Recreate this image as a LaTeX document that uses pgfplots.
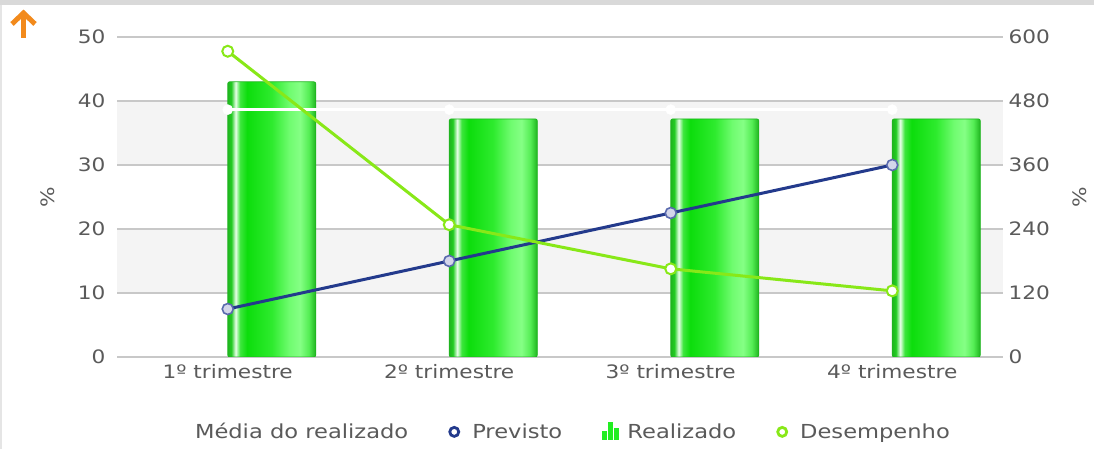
\documentclass[border=0pt]{standalone}
\usepackage{pgfplots}
\pgfplotsset{compat=1.18}
\usepackage{fontspec}
\setmainfont[FakeStretch=1.17]{DejaVu Sans}
\definecolor{txt}{HTML}{5A5A5A}
\definecolor{gridc}{HTML}{C8C8C8}
\definecolor{band}{HTML}{F4F4F4}
\definecolor{prev}{HTML}{233A8C}
\definecolor{prevmk}{HTML}{5A6AAE}
\definecolor{prevfill}{HTML}{D3D6EA}
\definecolor{des}{HTML}{88E818}
\definecolor{barb}{HTML}{1FB51F}
\definecolor{gB}{HTML}{22CC22}
\definecolor{gW}{HTML}{E8FFE8}
\definecolor{gC}{HTML}{3DE63D}
\definecolor{gD}{HTML}{0CDD0C}
\definecolor{gE}{HTML}{2EEB2E}
\definecolor{gF}{HTML}{70FC70}
\definecolor{gG}{HTML}{85FF85}
\definecolor{gH}{HTML}{55EE55}
\definecolor{legbar}{HTML}{22EE22}
\definecolor{arrowor}{HTML}{F28A1C}
\pgfdeclarehorizontalshading{barshade}{100bp}{color(0bp)=(barb); color(25bp)=(barb); color(27bp)=(gB); color(29.5bp)=(gW); color(32bp)=(gC); color(36bp)=(gD); color(50bp)=(gE); color(60bp)=(gF); color(66bp)=(gG); color(71bp)=(gH); color(75bp)=(barb); color(100bp)=(barb)}
\pgfplotsset{barstyle/.style={ybar, bar width=88pt, bar shift=44pt, draw=barb, line width=0.8pt, shade, shading=barshade, rounded corners=2pt}}
\begin{document}
\begin{tikzpicture}
\useasboundingbox (0,0) rectangle (1094pt,449pt);
\fill[white] (0,0) rectangle (1094pt,449pt);
\fill[gray!30] (0,444pt) rectangle (1094pt,449pt);
\draw[gray!20, line width=1.5pt] (0.75pt,0) -- (0.75pt,444pt);
% orange arrow icon
\draw[arrowor, line width=5pt] (23.5pt,411pt) -- (23.5pt,433pt);
\draw[arrowor, line width=5pt, line join=miter] (12pt,425pt) -- (23.5pt,436pt) -- (35pt,425pt);
\begin{axis}[
  scale only axis, width=886pt, height=320pt,
  at={(117pt,92pt)}, anchor=south west,
  xmin=-0.5, xmax=3.5, ymin=0, ymax=50,
  xtick={0,1,2,3},
  xticklabels={1º trimestre,2º trimestre,3º trimestre,4º trimestre},
  ytick={0,10,20,30,40,50},
  ymajorgrids, grid style={gridc, line width=1.2pt},
  axis line style={draw=none}, major tick length=0pt,
  tick label style={font=\fontsize{18.5}{22}\selectfont, text=txt},
  /pgf/number format/assume math mode=true,
  yticklabel style={xshift=-8pt},
  xticklabel style={yshift=-4pt},
  ylabel={\%},
  every axis y label/.style={at={(axis description cs:0,0.5)}, xshift=-69pt, rotate=90, anchor=center, font=\fontsize{18.5}{22}\selectfont, text=txt},
]
\fill[band] (axis cs:-0.5,10.1) rectangle (axis cs:3.5,19.9);
\fill[band] (axis cs:-0.5,30.1) rectangle (axis cs:3.5,39.9);
% Realizado (one plot per bar so each bar gets its own shading)
\addplot[barstyle] coordinates {(0,43)};
\addplot[barstyle] coordinates {(1,37.2)};
\addplot[barstyle] coordinates {(2,37.2)};
\addplot[barstyle] coordinates {(3,37.2)};
% Media do realizado
\addplot[white, line width=3pt, mark=*, mark size=5pt, mark options={fill=white, draw=white, line width=0.5pt}]
  coordinates {(0,38.65) (1,38.65) (2,38.65) (3,38.65)};
% Previsto
\addplot[prev, line width=3pt, mark=*, mark size=5.5pt, mark options={fill=prevfill, draw=prevmk, line width=1.6pt}]
  coordinates {(0,7.5) (1,15) (2,22.5) (3,30)};
\end{axis}
\begin{axis}[
  scale only axis, width=886pt, height=320pt,
  at={(117pt,92pt)}, anchor=south west,
  xmin=-0.5, xmax=3.5, ymin=0, ymax=600,
  ytick={0,120,240,360,480,600},
  axis y line*=right, axis x line=none,
  axis line style={draw=none}, major tick length=0pt,
  tick label style={font=\fontsize{18.5}{22}\selectfont, text=txt},
  /pgf/number format/assume math mode=true,
  yticklabel style={xshift=2pt},
  ylabel={\%},
  every axis y label/.style={at={(axis description cs:1,0.5)}, xshift=77pt, rotate=90, anchor=center, font=\fontsize{18.5}{22}\selectfont, text=txt},
  legend columns=-1,
  legend style={at={(axis description cs:0.5095,-0.234)}, anchor=center, draw=none, fill=none,
    font=\fontsize{19.3}{23}\selectfont, text=txt,
    /tikz/every even column/.append style={column sep=38pt}},
]
\addlegendimage{legend image code/.code={\draw[white, line width=2pt] (0pt,0pt) -- (6pt,0pt);}}
\addlegendentry{Média do realizado}
\addlegendimage{legend image code/.code={\path[draw=none, fill=none] (0pt,0pt) -- (22pt,0pt); \draw[prev, line width=2.8pt, fill=white] (6pt,0pt) circle (4.5pt);}}
\addlegendentry{Previsto}
\addlegendimage{legend image code/.code={\path[draw=none, fill=none] (0pt,0pt) -- (23pt,0pt); \fill[legbar] (0pt,-7pt) rectangle (4pt,1pt); \fill[legbar] (6pt,-7pt) rectangle (10pt,10pt); \fill[legbar] (12pt,-7pt) rectangle (16pt,4pt);}}
\addlegendentry{Realizado}
% Desempenho
\addplot[des, line width=3pt, mark=*, mark size=5.5pt, mark options={fill=white, draw=des, line width=2pt},
  legend image code/.code={\path[draw=none, fill=none] (0pt,0pt) -- (22pt,0pt); \draw[des, line width=2.8pt, fill=white] (6pt,0pt) circle (4.5pt);}]
  coordinates {(0,573.3) (1,248) (2,165.3) (3,124)};
\addlegendentry{Desempenho}
\end{axis}
\end{tikzpicture}
\end{document}
